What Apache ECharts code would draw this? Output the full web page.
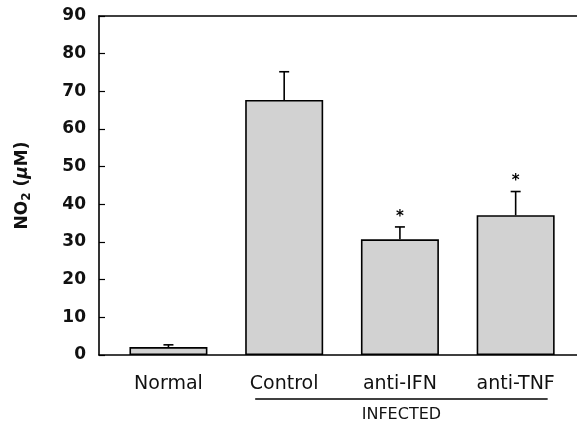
<!DOCTYPE html>
<html>
<head>
<meta charset="utf-8">
<script src="https://cdn.jsdelivr.net/npm/echarts@6/dist/echarts.min.js"></script>
<style>
html,body{margin:0;padding:0;background:#fff;}
#chart{width:577px;height:423px;}
</style>
</head>
<body>
<div id="chart"></div>
<script>
const categories = ['Normal', 'Control', 'anti-IFN', 'anti-TNF'];
const means = [2.1, 67.7, 30.7, 37.1];
const errors = [0.6, 7.5, 3.3, 6.3];
const significant = [false, false, true, true];
const yTicks = [0, 10, 20, 30, 40, 50, 60, 70, 80, 90];
const groupLabel = 'INFECTED';
const groupMembers = ['Control', 'anti-IFN', 'anti-TNF'];

const FONT = '"DejaVu Sans", "Liberation Sans", Arial, sans-serif';
const BAR_W = 78;
const chart = echarts.init(document.getElementById('chart'));

const xMin = -0.6, xMax = 3.53;
const barData = means.map((v, i) => [i, v]);
const errData = means.map((v, i) => [i, v, v + errors[i], significant[i] ? 1 : 0]);
const isCat = v => Math.abs(v - Math.round(v)) < 1e-6 && categories[Math.round(v)] !== undefined;

chart.setOption({
  animation: false,
  backgroundColor: '#fff',
  grid: { left: 99, right: 0, top: 16, bottom: 68 },
  xAxis: [{
    type: 'value', min: xMin, max: xMax, interval: 0.2,
    axisLine: { show: true, onZero: false, lineStyle: { color: '#000', width: 1.6 } },
    axisTick: { show: false },
    splitLine: { show: false },
    axisLabel: {
      showMinLabel: false, showMaxLabel: false,
      margin: 20, fontFamily: FONT, fontSize: 19, color: '#111',
      formatter: v => isCat(v) ? categories[Math.round(v)] : ''
    }
  }, {
    type: 'value', position: 'top', min: xMin, max: xMax,
    axisLine: { show: true, onZero: false, lineStyle: { color: '#000', width: 1.6 } },
    axisTick: { show: false }, axisLabel: { show: false }, splitLine: { show: false }
  }],
  yAxis: {
    type: 'value', min: yTicks[0], max: yTicks[yTicks.length - 1], interval: 10,
    axisLine: { show: true, onZero: false, lineStyle: { color: '#000', width: 1.6 } },
    axisTick: { show: true, inside: true, length: 6, lineStyle: { color: '#000', width: 1.2 } },
    splitLine: { show: false },
    axisLabel: { margin: 13, fontFamily: FONT, fontSize: 17, fontWeight: 'bold', color: '#111' },
    name: 'NO{sub|2} ({mu|μ}M)',
    nameLocation: 'middle', nameGap: 66,
    nameTextStyle: {
      fontFamily: FONT, fontSize: 17, fontWeight: 'bold', color: '#111',
      rich: {
        sub: { fontFamily: FONT, fontSize: 12, fontWeight: 'bold', color: '#111', verticalAlign: 'bottom', padding: [9, 0, 0, 0] },
        mu: { fontFamily: FONT, fontSize: 17, fontStyle: 'italic', color: '#111' }
      }
    }
  },
  series: [{
    type: 'bar',
    data: barData,
    barWidth: BAR_W,
    itemStyle: { color: '#d2d2d2', borderColor: '#000', borderWidth: 1.6 }
  }, {
    type: 'custom',
    data: errData,
    z: 5,
    renderItem: function (params, api) {
      const x = api.value(0);
      const top = api.coord([x, api.value(1)]);
      const hi = api.coord([x, api.value(2)]);
      const children = [
        { type: 'line', shape: { x1: top[0], y1: top[1], x2: hi[0], y2: hi[1] }, style: { stroke: '#000', lineWidth: 1.6 } },
        { type: 'line', shape: { x1: hi[0] - 5, y1: hi[1], x2: hi[0] + 5, y2: hi[1] }, style: { stroke: '#000', lineWidth: 1.6 } }
      ];
      if (api.value(3)) {
        children.push({ type: 'text', style: { text: '*', x: hi[0], y: hi[1] - 10, align: 'center', verticalAlign: 'middle', font: 'bold 15px ' + FONT, fill: '#000' } });
      }
      return { type: 'group', children: children };
    }
  }]
});

const first = categories.indexOf(groupMembers[0]);
const last = categories.indexOf(groupMembers[groupMembers.length - 1]);
const pA = chart.convertToPixel({ xAxisIndex: 0, yAxisIndex: 0 }, [first, 0]);
const pB = chart.convertToPixel({ xAxisIndex: 0, yAxisIndex: 0 }, [last, 0]);
const x1 = pA[0] - BAR_W / 2 + 10, x2 = pB[0] + BAR_W / 2 - 7;
chart.setOption({
  graphic: [
    { type: 'line', shape: { x1: x1, y1: pA[1] + 44, x2: x2, y2: pA[1] + 44 }, style: { stroke: '#000', lineWidth: 1.3 } },
    { type: 'text', style: { text: groupLabel, x: (x1 + x2) / 2, y: pA[1] + 60, align: 'center', verticalAlign: 'middle', font: '16px ' + FONT, fill: '#111' } }
  ]
});
</script>
</body>
</html>
